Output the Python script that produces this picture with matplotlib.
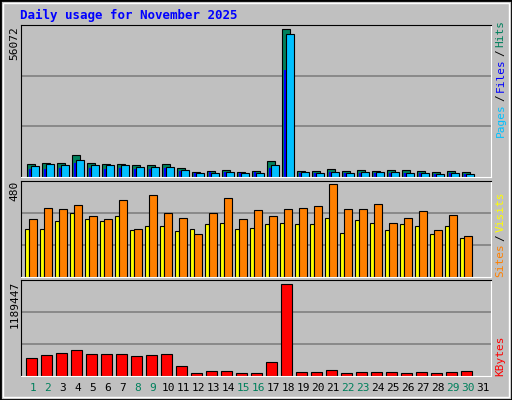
import matplotlib
matplotlib.use("Agg")
import matplotlib.pyplot as plt
import numpy as np
from matplotlib.patches import Rectangle

days = list(range(1, 32))
weekend = [1, 2, 8, 9, 15, 16, 22, 23, 29, 30]
hits = [5076,5457,5457,8249,5457,5076,5076,4442,4442,5076,3553,2030,2411,2792,2030,2411,6218,56072,2411,2411,3173,2411,2792,2411,2792,2792,2411,2030,2411,2030]
files = [4315,5076,4695,6599,4695,4695,4695,3934,3934,3934,2792,1650,1650,2030,1650,1650,4695,54313,2030,1650,2030,1650,2030,2030,2030,1650,1650,1269,1650,1269]
pages = [3173,2919,3553,5457,3553,3173,3553,2919,3173,3299,2411,1650,2030,2030,1650,2030,3553,40608,1650,1650,2030,1650,1650,1650,1650,1650,1650,1269,1650,1269]
sites = [246,251,288,334,298,288,314,241,262,262,236,246,277,282,246,256,277,282,272,277,308,230,293,282,241,277,262,220,262,204]
visits = [303,360,355,371,314,298,397,246,423,334,308,220,334,407,303,345,314,355,360,366,480,350,355,376,282,308,340,241,319,210]
kbytes = [236000,275000,301000,339000,288000,288000,288000,262000,275000,288000,133000,43000,69000,69000,43000,43000,185000,1189447,56000,56000,82000,43000,56000,56000,56000,43000,56000,43000,56000,69000]

BG = "#C0C0C0"
mono = "DejaVu Sans Mono"
fig = plt.figure(figsize=(5.12, 4.0), dpi=100, facecolor=BG)
fig.patches.append(Rectangle((0, 0), 1, 1, transform=fig.transFigure, fill=False, ec="black", lw=2))
fig.patches.append(Rectangle((0.006, 0.008), 0.988, 0.984, transform=fig.transFigure, fill=False, ec="white", lw=1))

x0, w = 0.0404, 0.9186
xl = (0.18, 31.53)
n = len(hits)
d = np.arange(1, n + 1)

def setup(ax, ymax):
    ax.set_facecolor(BG)
    ax.set_xlim(*xl)
    ax.set_ylim(0, ymax)
    for i in (1, 2):
        ax.axhline(ymax * i / 3, color="#808080", lw=1.2, zorder=0)
    ax.set_xticks([]); ax.set_yticks([])
    ax.spines["left"].set_color("black"); ax.spines["top"].set_color("black")
    ax.spines["right"].set_color("white"); ax.spines["bottom"].set_color("white")

ax1 = fig.add_axes([x0, 0.5575, w, 0.38])
setup(ax1, 57740)
ax1.bar(d - 0.14, hits, 0.5, color="#00805C", ec="black", lw=0.8)
ax1.bar(d - 0.2, pages, 0.13, color="#0000FF", lw=0)
ax1.bar(d + 0.13, files, 0.5, color="#00C0FF", ec="black", lw=0.8)

ax2 = fig.add_axes([x0, 0.308, w, 0.24])
setup(ax2, 499)
ax2.bar(d - 0.38, sites, 0.28, color="#FFFF00", ec="black", lw=0.8)
ax2.bar(d, visits, 0.5, color="#FF8000", ec="black", lw=0.8)

ax3 = fig.add_axes([x0, 0.059, w, 0.24])
setup(ax3, 1237000)
ax3.bar(d - 0.11, kbytes, 0.7, color="#FF0000", ec="black", lw=0.8)

fig.text(0.039, 0.962, "Daily usage for November 2025", color="#0000FF", family=mono, fontweight="bold", fontsize=9, va="center")
fig.text(0.028, 0.935, "56072", rotation=90, family=mono, fontsize=8, ha="center", va="top")
fig.text(0.028, 0.548, "480", rotation=90, family=mono, fontsize=8, ha="center", va="top")
fig.text(0.028, 0.297, "1189447", rotation=90, family=mono, fontsize=8, ha="center", va="top")

renderer = fig.canvas.get_renderer()
def right_label(y_bottom, parts):
    y = y_bottom
    for txt, col in parts:
        t = fig.text(0.978, y, txt, rotation=90, color=col, family=mono, fontsize=8, ha="center", va="bottom")
        bb = t.get_window_extent(renderer)
        y += bb.height / 400 + 0.006

right_label(0.657, [("Pages", "#00C0FF"), ("/", "black"), ("Files", "#0000FF"), ("/", "black"), ("Hits", "#00805C")])
right_label(0.308, [("Sites", "#FF8000"), ("/", "black"), ("Visits", "#FFFF00")])
right_label(0.06, [("KBytes", "#FF0000")])

for day in days:
    xf = x0 + w * (day - xl[0]) / (xl[1] - xl[0])
    fig.text(xf, 0.03, str(day), color="#00805C" if day in weekend else "black", family=mono, fontsize=8, ha="center", va="center")

fig.savefig("out.png", dpi=100, facecolor=BG)
